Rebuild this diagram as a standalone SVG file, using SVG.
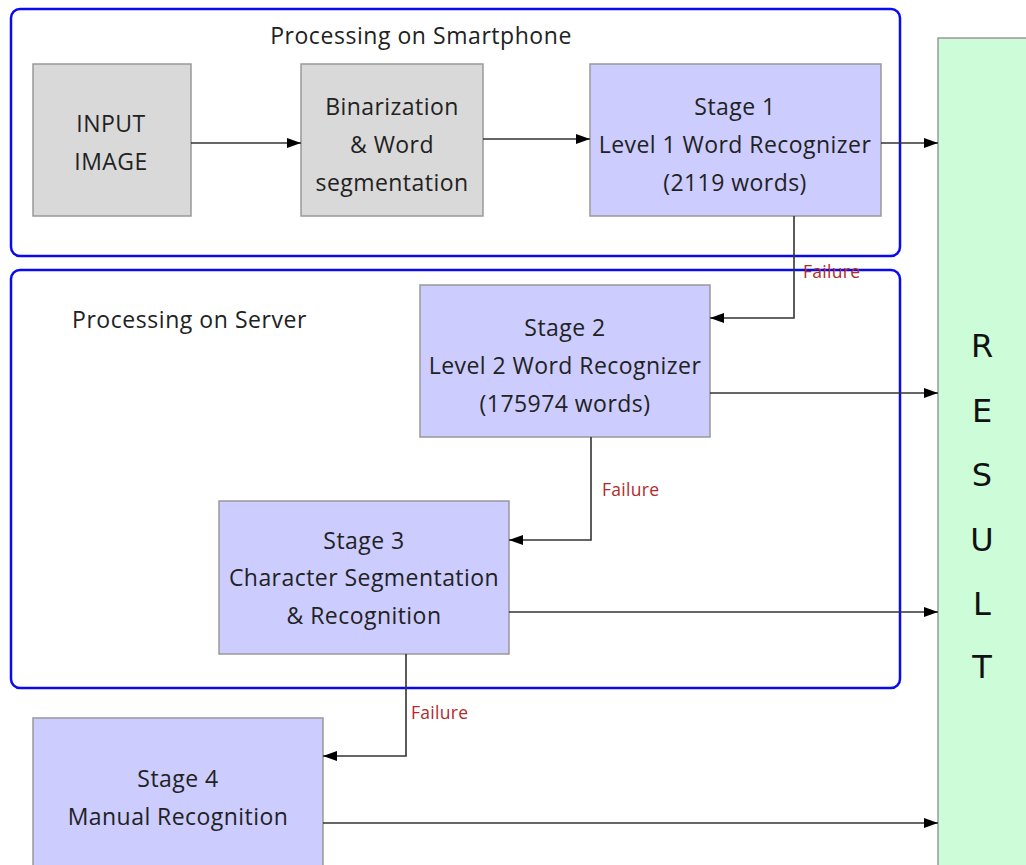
<svg xmlns="http://www.w3.org/2000/svg" width="1026" height="865" viewBox="0 0 1026 865">
<style>
.grp{fill:none;stroke:#0a0af0;stroke-width:2.5}
.gray{fill:#d9d9d9;stroke:#999;stroke-width:1.5}
.blue{fill:#ccccff;stroke:#999;stroke-width:1.5}
.res{fill:#ccfcd8;stroke:#999;stroke-width:1.5}
.t{font-family:"Open Sans","Noto Sans",sans-serif;font-size:23px;letter-spacing:0.45px;fill:#222;text-anchor:middle}
.gt{font-family:"Open Sans","Noto Sans",sans-serif;font-size:23px;letter-spacing:0.55px;fill:#222}
.f{font-family:"Open Sans","Noto Sans",sans-serif;font-size:17.5px;letter-spacing:0.3px;fill:#b22a2a}
.r{font-family:"DejaVu Sans",sans-serif;font-size:32px;fill:#111;text-anchor:middle}
.c{fill:none;stroke:#333;stroke-width:1.6}
</style>
<defs>
<marker id="ah" markerWidth="14" markerHeight="10" refX="14" refY="5" orient="auto" markerUnits="userSpaceOnUse">
<path d="M0,0 L14,5 L0,10 Z" fill="#000"/>
</marker>
</defs>
<rect width="1026" height="865" fill="#fff"/>
<g id="group-smartphone">
<rect class="grp" x="11" y="9" width="889" height="247" rx="9"/>
<text class="gt" x="421" y="44" text-anchor="middle">Processing on Smartphone</text>
</g>
<g id="group-server">
<rect class="grp" x="11" y="270" width="889" height="418" rx="9"/>
<text class="gt" x="72" y="328">Processing on Server</text>
</g>
<g id="result">
<rect class="res" x="938" y="38" width="100" height="840"/>
<text class="r" x="982" y="357">R</text>
<text class="r" x="982" y="422">E</text>
<text class="r" x="982" y="486">S</text>
<text class="r" x="982" y="551">U</text>
<text class="r" x="982" y="615">L</text>
<text class="r" x="982" y="678">T</text>
</g>
<g id="input">
<rect class="gray" x="33" y="64" width="158" height="152"/>
<text class="t" x="111" y="132">INPUT</text>
<text class="t" x="111" y="170">IMAGE</text>
</g>
<g id="binarization">
<rect class="gray" x="301" y="64" width="182" height="152"/>
<text class="t" x="392" y="115">Binarization</text>
<text class="t" x="392" y="153">&amp; Word</text>
<text class="t" x="392" y="191">segmentation</text>
</g>
<g id="stage1">
<rect class="blue" x="590" y="64" width="291" height="152"/>
<text class="t" x="735" y="115">Stage 1</text>
<text class="t" x="735" y="153">Level 1 Word Recognizer</text>
<text class="t" x="735" y="191">(2119 words)</text>
</g>
<g id="stage2">
<rect class="blue" x="420" y="285" width="290" height="152"/>
<text class="t" x="565" y="336">Stage 2</text>
<text class="t" x="565" y="374">Level 2 Word Recognizer</text>
<text class="t" x="565" y="412">(175974 words)</text>
</g>
<g id="stage3">
<rect class="blue" x="219" y="501" width="290" height="153"/>
<text class="t" x="364" y="549">Stage 3</text>
<text class="t" x="364" y="586">Character Segmentation</text>
<text class="t" x="364" y="624">&amp; Recognition</text>
</g>
<g id="stage4">
<rect class="blue" x="33" y="718" width="290" height="160"/>
<text class="t" x="178" y="787">Stage 4</text>
<text class="t" x="178" y="825">Manual Recognition</text>
</g>
<g id="connectors">
<path class="c" d="M191,143 H301" marker-end="url(#ah)"/>
<path class="c" d="M483,139 H590" marker-end="url(#ah)"/>
<path class="c" d="M881,143 H938" marker-end="url(#ah)"/>
<path class="c" d="M794,216 V318 H710" marker-end="url(#ah)"/>
<text class="f" x="803" y="278">Failure</text>
<path class="c" d="M710,393 H938" marker-end="url(#ah)"/>
<path class="c" d="M591,437 V540 H509" marker-end="url(#ah)"/>
<text class="f" x="602" y="496">Failure</text>
<path class="c" d="M509,612 H938" marker-end="url(#ah)"/>
<path class="c" d="M406,654 V756 H323" marker-end="url(#ah)"/>
<text class="f" x="411" y="719">Failure</text>
<path class="c" d="M323,823 H938" marker-end="url(#ah)"/>
</g>
</svg>
